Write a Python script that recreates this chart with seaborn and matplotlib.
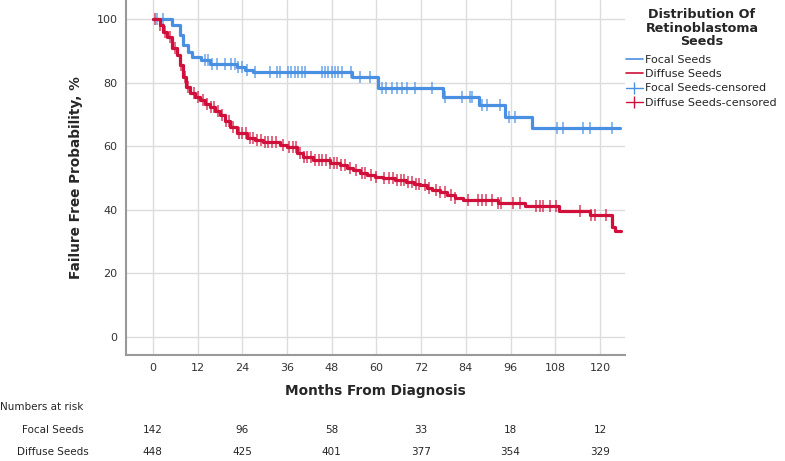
import numpy as np
import pandas as pd
import matplotlib
matplotlib.use("Agg")
import matplotlib.pyplot as plt
import seaborn as sns
from matplotlib.lines import Line2D

# ---------------- data ----------------
focal_t = [0, 5.1, 7.2, 8.0, 9.4, 10.4, 13.0, 15.3, 22.5, 24.7, 27.0, 53.4, 60.4, 77.9, 87.5, 94.5, 101.7, 125.4]
focal_s = [100, 98.1, 95.0, 91.8, 89.6, 88.0, 87.0, 86.0, 85.0, 84.0, 83.3, 81.8, 78.3, 75.5, 73.0, 69.2, 65.7, 65.7]
focal_cens = [1.0, 2.7, 14.0, 14.8, 15.8, 17.1, 19.3, 21.1, 22.0, 22.9, 23.8, 25.2, 27.4, 31.4, 33.2, 34.1,
              36.3, 37.2, 38.1, 39.0, 39.9, 40.8, 45.3, 46.2, 47.1, 48.0, 48.9, 49.7, 50.7, 53.3, 55.6,
              58.3, 61.4, 62.7, 64.1, 65.4, 66.8, 68.1, 70.3, 74.9, 78.4, 83.0, 85.0, 85.6, 88.3, 89.7,
              93.2, 95.5, 97.2, 108.5, 110.0, 115.4, 117.3, 123.2]

diffuse_t = [0, 1.9, 2.7, 3.7, 5.1, 6.4, 7.2, 8.0, 9.0, 10.0, 11.3, 12.6, 14.0, 15.3, 16.7, 18.0, 19.3,
             20.7, 22.5, 25.2, 27.5, 29.5, 34.0, 36.0, 38.7, 40.3, 43.0, 47.5, 50.2, 52.0, 53.7, 55.5,
             57.4, 59.5, 61.7, 65.0, 68.0, 70.0, 71.7, 73.5, 75.0, 77.0, 79.0, 81.0, 83.2, 92.6, 100.0,
             109.0, 117.3, 123.2, 124.0, 125.6]
diffuse_s = [100, 98.0, 96.0, 94.3, 91.0, 88.7, 85.5, 81.8, 78.6, 76.7, 75.5, 74.5, 73.4, 72.3, 71.0, 69.8,
             68.0, 66.0, 64.1, 62.6, 62.0, 61.3, 60.5, 59.7, 57.8, 56.6, 55.7, 54.8, 54.0, 53.2, 52.5,
             51.7, 51.0, 50.4, 50.0, 49.4, 48.7, 48.2, 47.8, 47.0, 46.2, 45.5, 44.7, 43.8, 43.0, 42.1,
             41.3, 39.6, 38.3, 34.6, 33.4, 33.4]
diffuse_cens = [0.5, 2.0, 3.2, 4.5, 6.0, 7.6, 8.5, 9.5, 11.0, 12.0, 13.5, 14.5, 15.5, 16.5, 17.5, 18.5,
                19.5, 20.5, 21.5, 23.0, 24.0, 25.0, 26.0, 27.0, 28.0, 29.0, 30.0, 31.0, 32.0, 33.0, 35.0,
                36.5, 37.5, 38.5, 39.5, 40.5, 41.5, 42.5, 43.5, 44.5, 45.5, 46.5, 47.5, 48.5, 49.5, 50.5,
                51.5, 53.0, 54.5, 56.0, 57.0, 58.5, 60.0, 62.0, 63.5, 64.5, 65.5, 66.5, 67.5, 68.5, 69.5,
                70.5, 71.5, 73.0, 74.0, 76.0, 77.0, 78.5, 80.0, 81.0, 84.5, 87.3, 88.2, 89.5, 90.9, 92.6,
                93.5, 96.6, 98.4, 102.9, 103.8, 104.7, 106.5, 108.3, 114.6, 117.7, 118.6, 121.7]

groups = ["Focal Seeds", "Diffuse Seeds"]
colors = {"Focal Seeds": "#4A90E2", "Diffuse Seeds": "#D0103A"}

risk_months = [0, 24, 48, 72, 96, 120]
risk_focal = [142, 96, 58, 33, 18, 12]
risk_diffuse = [448, 425, 401, 377, 354, 329]

x_ticks = [0, 12, 24, 36, 48, 60, 72, 84, 96, 108, 120]
y_ticks = [0, 20, 40, 60, 80, 100]


def step_value(times, surv, t):
    idx = np.searchsorted(np.asarray(times), t, side="right") - 1
    return np.asarray(surv)[idx]


curve_df = pd.concat([
    pd.DataFrame({"t": focal_t, "s": focal_s, "group": "Focal Seeds"}),
    pd.DataFrame({"t": diffuse_t, "s": diffuse_s, "group": "Diffuse Seeds"}),
])
cens_df = pd.concat([
    pd.DataFrame({"t": focal_cens, "s": step_value(focal_t, focal_s, focal_cens), "group": "Focal Seeds"}),
    pd.DataFrame({"t": diffuse_cens, "s": step_value(diffuse_t, diffuse_s, diffuse_cens), "group": "Diffuse Seeds"}),
])

# ---------------- figure ----------------
sns.set_theme(style="white")
plt.rcParams["font.family"] = ["DejaVu Sans"]

fig = plt.figure(figsize=(7.85, 4.61), dpi=100)
ax = fig.add_axes([126 / 785, 1 - 355 / 461, (625 - 126) / 785, 355 / 461])

for g in groups:
    sub = cens_df[cens_df.group == g]
    ax.scatter(sub.t, sub.s, marker="|", s=70, linewidths=1.1, color=colors[g], alpha=0.8, zorder=3)

sns.lineplot(data=curve_df, x="t", y="s", hue="group", palette=colors, drawstyle="steps-post",
             estimator=None, linewidth=2.3, ax=ax, legend=False, zorder=4)

ax.set_xlim(-7.2, 126.7)
ax.set_ylim(-5.7, 106)
ax.set_xticks(x_ticks)
ax.set_yticks(y_ticks)
ax.tick_params(axis="both", labelsize=8, colors="#333333", length=0, pad=6)
ax.grid(True, color="#dcdcdc", linewidth=1.0)
ax.set_axisbelow(True)
for sp in ["top", "right"]:
    ax.spines[sp].set_visible(False)
for sp in ["left", "bottom"]:
    ax.spines[sp].set_color("#999999")
    ax.spines[sp].set_linewidth(1.5)

ax.set_xlabel("Months From Diagnosis", fontsize=9.8, fontweight="bold", labelpad=8)
ax.set_ylabel("Failure Free Probability, %", fontsize=9.8, fontweight="bold", labelpad=10)


def fx(px):
    return px / 785


def fy(py):
    return 1 - py / 461


# legend title (separate text, centred like the reference)
fig.text(fx(702), fy(28), "Distribution Of\nRetinoblastoma\nSeeds", fontsize=9.2, fontweight="bold",
         ha="center", va="center", multialignment="center", linespacing=1.05)

handles = [
    Line2D([], [], color=colors["Focal Seeds"], lw=1.2, drawstyle="steps-mid"),
    Line2D([], [], color=colors["Diffuse Seeds"], lw=1.2, drawstyle="steps-mid"),
    Line2D([], [], color=colors["Focal Seeds"], lw=1.0, marker="|", markersize=9),
    Line2D([], [], color=colors["Diffuse Seeds"], lw=1.0, marker="|", markersize=9),
]
labels = ["Focal Seeds", "Diffuse Seeds", "Focal Seeds-censored", "Diffuse Seeds-censored"]
leg = fig.legend(handles, labels, loc="upper left", bbox_to_anchor=(fx(626), fy(55)),
                 frameon=False, fontsize=8.0, handlelength=1.5, handletextpad=0.25,
                 labelspacing=0.38, borderaxespad=0, borderpad=0)

# numbers at risk table
narrow = ["Liberation Sans Narrow", "DejaVu Sans"]
fig.text(fx(0), fy(407), "Numbers at risk", fontsize=7.5, va="center", ha="left", family=narrow)
fig.text(fx(53), fy(430), "Focal Seeds", fontsize=7.5, va="center", ha="center", family=narrow)
fig.text(fx(53), fy(452), "Diffuse Seeds", fontsize=7.5, va="center", ha="center", family=narrow)
trans = matplotlib.transforms.blended_transform_factory(ax.transData, fig.transFigure)
for m, a, b in zip(risk_months, risk_focal, risk_diffuse):
    ax.text(m, fy(430), str(a), transform=trans, fontsize=7.5, ha="center", va="center", family=narrow)
    ax.text(m, fy(452), str(b), transform=trans, fontsize=7.5, ha="center", va="center", family=narrow)

fig.savefig("out.png", dpi=100)
